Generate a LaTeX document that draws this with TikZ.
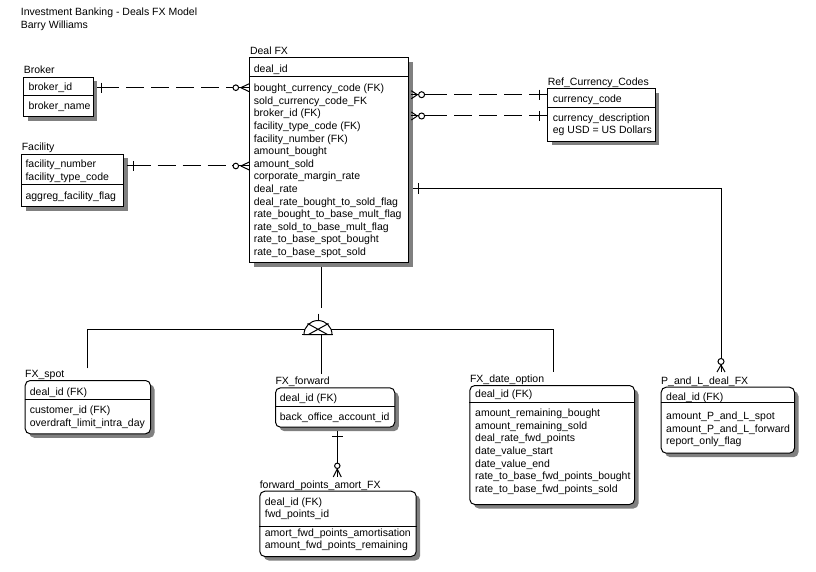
\documentclass[tikz,border=0pt]{standalone}
\usepackage{fontspec}
\setmainfont{Liberation Sans}
\usetikzlibrary{shadows,positioning}
\tikzset{>=stealth}
\colorlet{penColor}{black}
\colorlet{shadowColor}{black!50}
\newcommand\erfont{\fontsize{10.5}{12.6}\selectfont}
\tikzset{
  tablebox/.style={draw=penColor, line width=1pt, fill=white, inner sep=0pt, anchor=north west,
    drop shadow={shadow xshift=4pt, shadow yshift=-4pt, fill=shadowColor, opacity=1}},
  subbox/.style={tablebox, rounded corners=5pt},
  attrs/.style={inner sep=0pt, anchor=north west, align=left, font=\erfont},
  entname/.style={inner sep=0pt, anchor=base west, font=\erfont},
  rel/.style={draw=penColor, line width=1pt},
  optrel/.style={rel, dash pattern=on 18pt off 7pt},
}

\begin{document}
\begin{tikzpicture}[x=1pt, y=-1pt]
\useasboundingbox (0,0) rectangle (816,572);
\node[attrs] (title) at (20.7,7.6) {Investment Banking - Deals FX Model\\Barry Williams};

% Broker
\node[tablebox, minimum width=69.4pt, minimum height=39.6pt] (broker) at (23.3,76.7) {};
\node[entname] (brokerName) at ([xshift=0.3pt,yshift=2.7pt]broker.north west) {Broker};
\draw[rel] (broker.west |- 0,96) -- (broker.east |- 0,96);
\node[attrs] (brokerKey) at (28.3,82.6) {broker\_id};
\node[attrs] (brokerAttr) at (28.3,101.6) {broker\_name};

% Facility
\node[tablebox, minimum width=102pt, minimum height=52.3pt] (facility) at (21.3,153.7) {};
\node[entname] (facilityName) at ([xshift=0.3pt,yshift=2.7pt]facility.north west) {Facility};
\draw[rel] (facility.west |- 0,185) -- (facility.east |- 0,185);
\node[attrs] (facilityKey) at (25.3,159.6) {facility\_number\\facility\_type\_code};
\node[attrs] (facilityAttr) at (25.3,191.6) {aggreg\_facility\_flag};

% Deal FX
\node[tablebox, minimum width=159pt, minimum height=205pt] (deal) at (249.3,57.3) {};
\node[entname] (dealName) at ([xshift=0.5pt,yshift=2.7pt]deal.north west) {Deal FX};
\draw[rel] (deal.west |- 0,76.3) -- (deal.east |- 0,76.3);
\node[attrs] (dealKey) at (253.7,64.3) {deal\_id};
\node[attrs] (dealAttr) at (253.7,83.9) {bought\_currency\_code (FK)\\sold\_currency\_code\_FK\\broker\_id (FK)\\facility\_type\_code (FK)\\facility\_number (FK)\\amount\_bought\\amount\_sold\\corporate\_margin\_rate\\deal\_rate\\deal\_rate\_bought\_to\_sold\_flag\\rate\_bought\_to\_base\_mult\_flag\\rate\_sold\_to\_base\_mult\_flag\\rate\_to\_base\_spot\_bought\\rate\_to\_base\_spot\_sold};

% Ref_Currency_Codes
\node[tablebox, minimum width=107.4pt, minimum height=52.7pt] (refcur) at (547.3,88.3) {};
\node[entname] (refcurName) at ([xshift=0.3pt,yshift=2.7pt]refcur.north west) {Ref\_Currency\_Codes};
\draw[rel] (refcur.west |- 0,107.3) -- (refcur.east |- 0,107.3);
\node[attrs] (refcurKey) at (552.7,94.3) {currency\_code};
\node[attrs] (refcurAttr) at (552.7,113.3) {currency\_description\\eg USD = US Dollars};

% FX_spot
\node[subbox, minimum width=125.3pt, minimum height=53.3pt] (spot) at (24.7,380) {};
\node[entname] (spotName) at ([xshift=0.3pt,yshift=2.7pt]spot.north west) {FX\_spot};
\draw[rel] (spot.west |- 0,399) -- (spot.east |- 0,399);
\node[attrs] (spotKey) at (29.7,387.6) {deal\_id (FK)};
\node[attrs] (spotAttr) at (29.7,405.9) {customer\_id (FK)\\overdraft\_limit\_intra\_day};

% FX_forward
\node[subbox, minimum width=119.3pt, minimum height=39.4pt] (fwd) at (275,387.3) {};
\node[entname] (fwdName) at ([xshift=0.3pt,yshift=2.7pt]fwd.north west) {FX\_forward};
\draw[rel] (fwd.west |- 0,406.3) -- (fwd.east |- 0,406.3);
\node[attrs] (fwdKey) at (279.7,393.9) {deal\_id (FK)};
\node[attrs] (fwdAttr) at (279.7,412.6) {back\_office\_account\_id};

% forward_points_amort_FX
\node[subbox, minimum width=156.4pt, minimum height=65.3pt] (fwdpts) at (259.3,490.7) {};
\node[entname] (fwdptsName) at ([xshift=0.3pt,yshift=2.7pt]fwdpts.north west) {forward\_points\_amort\_FX};
\draw[rel] (fwdpts.west |- 0,526.7) -- (fwdpts.east |- 0,526.7);
\node[attrs] (fwdptsKey) at (264.7,497.3) {deal\_id (FK)\\fwd\_points\_id};
\node[attrs] (fwdptsAttr) at (264.7,528.3) {amort\_fwd\_points\_amortisation\\amount\_fwd\_points\_remaining};

% FX_date_option
\node[subbox, minimum width=164.7pt, minimum height=119pt] (dateopt) at (469.3,385) {};
\node[entname] (dateoptName) at ([xshift=0.5pt,yshift=2.7pt]dateopt.north west) {FX\_date\_option};
\draw[rel] (dateopt.west |- 0,402.7) -- (dateopt.east |- 0,402.7);
\node[attrs] (dateoptKey) at (475,389.9) {deal\_id (FK)};
\node[attrs] (dateoptAttr) at (475,408.9) {amount\_remaining\_bought\\amount\_remaining\_sold\\deal\_rate\_fwd\_points\\date\_value\_start\\date\_value\_end\\rate\_to\_base\_fwd\_points\_bought\\rate\_to\_base\_fwd\_points\_sold};

% P_and_L_deal_FX
\node[subbox, minimum width=133.3pt, minimum height=66pt] (pnl) at (660.7,386.7) {};
\node[entname] (pnlName) at ([xshift=0.3pt,yshift=2.7pt]pnl.north west) {P\_and\_L\_deal\_FX};
\draw[rel] (pnl.west |- 0,402.7) -- (pnl.east |- 0,402.7);
\node[attrs] (pnlKey) at (666,392.6) {deal\_id (FK)};
\node[attrs] (pnlAttr) at (666,411.6) {amount\_P\_and\_L\_spot\\amount\_P\_and\_L\_forward\\report\_only\_flag};

% Broker -- Deal FX
\draw[optrel, dash phase=21pt] ([xshift=3.3pt]broker.east |- 0,87.7) -- (deal.west |- 0,87.7);
\draw[rel] ([xshift=3.3pt]broker.east |- 0,87.7) -- ++(22,0);
\draw[rel] ([xshift=7.3pt]broker.east |- 0,87.7) ++(0,-5) -- ++(0,10);
\draw[rel] (deal.west |- 0,87.7) -- ++(-17,0);
\draw[rel] ([xshift=-8.5pt]deal.west |- 0,87.7) -- ++(8.5,-4) ++(-8.5,4) -- ++(8.5,4);
\draw[rel, fill=white] ([xshift=-13.5pt]deal.west |- 0,87.7) circle (2.8pt);

% Facility -- Deal FX
\draw[optrel, dash phase=19.3pt] ([xshift=2.7pt]facility.east |- 0,166) -- (deal.west |- 0,166);
\draw[rel] ([xshift=2.7pt]facility.east |- 0,166) -- ++(24,0);
\draw[rel] ([xshift=9pt]facility.east |- 0,166) ++(0,-5) -- ++(0,10);
\draw[rel] (deal.west |- 0,166) -- ++(-17,0);
\draw[rel] ([xshift=-8.5pt]deal.west |- 0,166) -- ++(8.5,-4) ++(-8.5,4) -- ++(8.5,4);
\draw[rel, fill=white] ([xshift=-13.5pt]deal.west |- 0,166) circle (2.8pt);

% Deal FX -- Ref_Currency_Codes (bought, sold)
\draw[optrel, dash phase=20.7pt] ([xshift=15.7pt]deal.east |- 0,94.7) -- (refcur.west |- 0,94.7);
\draw[rel] ([xshift=2pt]deal.east |- 0,94.7) -- ++(36,0);
\draw[rel] (refcur.west |- 0,94.7) -- ++(-16,0);
\draw[rel] ([xshift=-8pt]refcur.west |- 0,94.7) ++(0,-5) -- ++(0,10);
\draw[rel] ([xshift=8pt]deal.east |- 0,94.7) -- ++(-6,-4) ++(6,4) -- ++(-6,4);
\draw[rel, fill=white] ([xshift=12.3pt]deal.east |- 0,94.7) circle (3pt);
\draw[optrel, dash phase=20.7pt] ([xshift=15.7pt]deal.east |- 0,116) -- (refcur.west |- 0,116);
\draw[rel] ([xshift=2pt]deal.east |- 0,116) -- ++(36,0);
\draw[rel] (refcur.west |- 0,116) -- ++(-16,0);
\draw[rel] ([xshift=-8pt]refcur.west |- 0,116) ++(0,-5) -- ++(0,10);
\draw[rel] ([xshift=8pt]deal.east |- 0,116) -- ++(-6,-4) ++(6,4) -- ++(-6,4);
\draw[rel, fill=white] ([xshift=12.3pt]deal.east |- 0,116) circle (3pt);

% Deal FX -- P_and_L_deal_FX
\coordinate (pnlTop) at (721,372);
\draw[rel] ([xshift=3.7pt]deal.east |- 0,188.3) -| (pnlTop);
\draw[rel] ([xshift=9pt]deal.east |- 0,188.3) ++(0,-5.5) -- ++(0,11);
\draw[rel] ([yshift=7pt]pnlTop) -- ++(-4,7) ++(4,-7) -- ++(4,7);
\draw[rel, fill=white] ([yshift=10.5pt]pnlTop) circle (3pt);

% FX_forward -- forward_points_amort_FX
\coordinate (fwdptsTop) at (337.3,477);
\draw[rel] ([yshift=-3.5pt]fwd.south -| fwdptsTop) -- (fwdptsTop);
\draw[rel] (fwd.south -| fwdptsTop) ++(-5.5,9) -- ++(11,0);
\draw[rel] ([yshift=8pt]fwdptsTop) -- ++(-4,8) ++(4,-8) -- ++(4,8);
\draw[rel, fill=white] ([yshift=11.2pt]fwdptsTop) circle (2.7pt);

% subtypes of Deal FX
\coordinate (spotTop) at (87.3,368.3);
\coordinate (fwdTop) at (321.7,374.3);
\coordinate (dateoptTop) at (553.3,371.7);
\draw[rel] ([yshift=-3.7pt]deal.south -| fwdTop) -- (321.7,308.3);
\draw[rel] (318,313.5) -- (318,320.5);
\draw[rel, fill=white] (304,334.5) arc (180:0:14pt) -- cycle;
\draw[rel] (302.3,334.5) -- (333,334.5);
\draw[rel] (307.5,323.5) -- (327.5,334.5) (328.5,323.5) -- (308.5,334.5);
\draw[rel] (spotTop) |- (304.6,329.5);
\draw[rel] (331.4,329.5) -| (dateoptTop);
\draw[rel] (321.7,335) -- (fwdTop);
\end{tikzpicture}
\end{document}
